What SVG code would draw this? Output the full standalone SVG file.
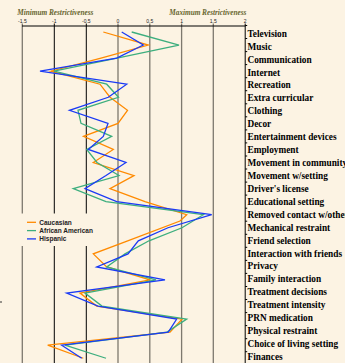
<svg xmlns="http://www.w3.org/2000/svg" width="345" height="363" viewBox="0 0 345 363">
<style>
.bg{fill:#fcf3e3}
.g{stroke:#7d786e;stroke-width:1.3}
.k{stroke:#000;stroke-width:1}
.tick{font-family:"Liberation Sans",Arial,sans-serif;font-size:5px;fill:#222;text-anchor:middle}
.title{font-family:"Liberation Serif","Times New Roman",serif;font-size:7.3px;font-weight:bold;font-style:italic;fill:#66652e}
.cat{font-family:"Liberation Serif","Times New Roman",serif;font-size:9.3px;font-weight:bold;fill:#000}
.leg{font-family:"Liberation Sans",Arial,sans-serif;font-size:6.5px;font-weight:bold;fill:#222}
.s{fill:none;stroke-width:1.3;stroke-linejoin:miter}
.c{stroke:#ff8a00}
.a{stroke:#3dae7e}
.h{stroke:#1a3af5}
</style>
<rect class="bg" x="0" y="0" width="345" height="363"/>
<g id="axes">
<line class="g" x1="22.3" y1="23.5" x2="22.3" y2="363"/>
<line class="k" x1="54.3" y1="23.5" x2="54.3" y2="363"/>
<line class="k" x1="86.3" y1="23.5" x2="86.3" y2="363"/>
<line class="g" x1="118" y1="23.5" x2="118" y2="363"/>
<line class="g" x1="149.8" y1="23.5" x2="149.8" y2="363"/>
<line class="g" x1="181.6" y1="23.5" x2="181.6" y2="363"/>
<line class="g" x1="213.3" y1="23.5" x2="213.3" y2="363"/>
<line class="k" x1="245.2" y1="23.5" x2="245.2" y2="363"/>
<line class="k" x1="22" y1="26" x2="245.5" y2="26"/>
<path class="k" d="M245.2 25.5h2M245.2 38.5h2M245.2 51.6h2M245.2 64.6h2M245.2 77.7h2M245.2 90.7h2M245.2 103.8h2M245.2 116.8h2M245.2 129.9h2M245.2 142.9h2M245.2 156h2M245.2 169h2M245.2 182.1h2M245.2 195.1h2M245.2 208.2h2M245.2 221.2h2M245.2 234.3h2M245.2 247.3h2M245.2 260.4h2M245.2 273.4h2M245.2 286.5h2M245.2 299.5h2M245.2 312.6h2M245.2 325.6h2M245.2 338.7h2M245.2 351.7h2"/>
<text class="tick" x="22.4" y="22.8">-1.5</text>
<text class="tick" x="54.3" y="22.8">-1</text>
<text class="tick" x="86.3" y="22.8">-0.5</text>
<text class="tick" x="118" y="22.8">0</text>
<text class="tick" x="149.8" y="22.8">0.5</text>
<text class="tick" x="181.6" y="22.8">1</text>
<text class="tick" x="213.3" y="22.8">1.5</text>
<text class="tick" x="245.2" y="22.8">2</text>
<text class="title" x="17.3" y="15.2" textLength="76">Minimum Restrictiveness</text>
<text class="title" x="169.3" y="15.2" textLength="77">Maximum Restrictiveness</text>
<line x1="0" y1="302" x2="2" y2="302" stroke="#333" stroke-width="1"/>
</g>
<g id="categories">
<text class="cat" x="247.5" y="36.7">Television</text>
<text class="cat" x="247.5" y="49.6">Music</text>
<text class="cat" x="247.5" y="62.6">Communication</text>
<text class="cat" x="247.5" y="75.5">Internet</text>
<text class="cat" x="247.5" y="88.4">Recreation</text>
<text class="cat" x="247.5" y="101.4">Extra curricular</text>
<text class="cat" x="247.5" y="114.3">Clothing</text>
<text class="cat" x="247.5" y="127.2">Decor</text>
<text class="cat" x="247.5" y="140.1">Entertainment devices</text>
<text class="cat" x="247.5" y="153.1">Employment</text>
<text class="cat" x="247.5" y="166">Movement in community</text>
<text class="cat" x="247.5" y="178.9">Movement w/setting</text>
<text class="cat" x="247.5" y="191.9">Driver's license</text>
<text class="cat" x="247.5" y="204.8">Educational setting</text>
<text class="cat" x="247.5" y="217.7">Removed contact w/others</text>
<text class="cat" x="247.5" y="230.7">Mechanical restraint</text>
<text class="cat" x="247.5" y="243.6">Friend selection</text>
<text class="cat" x="247.5" y="256.5">Interaction with friends</text>
<text class="cat" x="247.5" y="269.4">Privacy</text>
<text class="cat" x="247.5" y="282.4">Family interaction</text>
<text class="cat" x="247.5" y="295.3">Treatment decisions</text>
<text class="cat" x="247.5" y="308.2">Treatment intensity</text>
<text class="cat" x="247.5" y="321.2">PRN medication</text>
<text class="cat" x="247.5" y="334.1">Physical restraint</text>
<text class="cat" x="247.5" y="347">Choice of living setting</text>
<text class="cat" x="247.5" y="359.9">Finances</text>
</g>
<g id="connectors">
<polyline id="caucasian" class="s c" points="103.3,32 148.3,45.05 101,58.1 51,71.15 100,84.2 110,97.25 127.5,110.3 118,123.35 83.5,136.4 113.3,149.45 93.3,162.5 134,175.55 110,188.6 145,201.65 186.7,214.7 180,221 127.7,240.8 93.3,253.85 106.7,266.9 150,279.95 80,293 96.7,306.05 182,319.1 170,332.15 47.7,345.2 83.3,358.25"/>
<polyline id="african-american" class="s a" points="131.7,32 179,45.05 117,58.1 54,71.15 106.7,84.2 118.5,97.25 78,110.3 81,123.35 111.7,136.4 86.7,149.45 97,162.5 119,175.55 73.3,188.6 106,201.65 203.3,214.7 182,227.75 149,240.8 125,253.85 106.7,266.9 156,279.95 85,293 102,306.05 186.7,319.1 167,332.15 65,345.2 106,358.25"/>
<polyline id="hispanic" class="s h" points="121.7,32 143.3,45.05 116.7,58.1 40,71.15 126.7,84.2 108.3,97.25 69.5,110.3 108,123.35 103.3,136.4 88.3,149.45 126,162.5 106,175.55 85,188.6 116.7,201.65 211.7,214.7 168,227.75 138.3,240.8 128,253.85 96.7,266.9 165,279.95 66.7,293 98,306.05 176.7,319.1 168.3,332.15 61.7,345.2 81.7,358.25"/>
</g>
<g id="legend">
<rect class="bg" x="15" y="213.5" width="80" height="32.5"/>
<line class="s c" x1="27" y1="222.3" x2="36" y2="222.3"/>
<text class="leg" x="39.3" y="224.6">Caucasian</text>
<line class="s a" x1="27" y1="230.6" x2="36" y2="230.6"/>
<text class="leg" x="39.3" y="232.9">African American</text>
<line class="s h" x1="27" y1="238.9" x2="36" y2="238.9"/>
<text class="leg" x="39.3" y="241.2">Hispanic</text>
</g>
</svg>
